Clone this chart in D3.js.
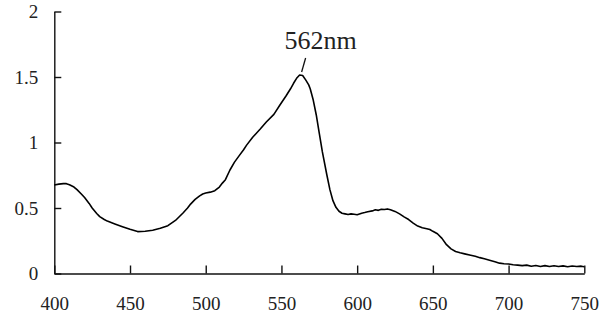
<!DOCTYPE html>
<html>
<head>
<meta charset="utf-8">
<script src="https://cdn.jsdelivr.net/npm/d3@7"></script>
<style>
  body { margin: 0; background: #fff; }
  svg text { font-family: "Liberation Serif", "DejaVu Serif", serif; fill: #222; }
</style>
</head>
<body>
<svg id="svg1" width="603" height="322"></svg>
<script>
// absorbance spectrum
var wavelength = [400, 403, 406, 408, 410, 413, 415, 418, 420, 423, 425, 428, 430, 433, 435, 440, 445, 450, 455, 460,
  465, 470, 475, 480, 485, 488, 490, 493, 496, 498, 500, 503, 506, 509, 511, 513, 516, 519, 522, 525,
  527, 531, 536, 540, 545, 549, 553, 556, 558, 560, 562, 564, 566, 568, 569, 571, 573, 575, 577, 580,
  582, 584, 586, 588, 590, 592, 594, 596, 598, 600, 603, 605, 607, 610, 612, 614, 616, 618, 620, 622,
  625, 628, 631, 634, 637, 640, 643, 646, 648, 650, 653, 656, 659, 662, 665, 668, 671, 675, 678, 681,
  684, 688, 691, 694, 697, 700, 703, 706, 709, 712, 715, 718, 721, 724, 727, 730, 733, 736, 739, 742,
  745, 748, 750];
var absorbance = [0.676, 0.682, 0.686, 0.686, 0.678, 0.660, 0.640, 0.605, 0.580, 0.535, 0.500, 0.458, 0.434, 0.412, 0.400, 0.378, 0.357, 0.337, 0.320, 0.322,
  0.330, 0.345, 0.365, 0.405, 0.462, 0.500, 0.530, 0.566, 0.593, 0.607, 0.614, 0.621, 0.632, 0.660, 0.690, 0.716, 0.790, 0.850, 0.898, 0.945,
  0.980, 1.040, 1.103, 1.156, 1.215, 1.286, 1.355, 1.410, 1.452, 1.490, 1.515, 1.512, 1.478, 1.440, 1.410, 1.324, 1.210, 1.070, 0.930, 0.752,
  0.640, 0.556, 0.505, 0.475, 0.460, 0.455, 0.450, 0.455, 0.452, 0.448, 0.460, 0.465, 0.472, 0.478, 0.486, 0.482, 0.491, 0.488, 0.493, 0.487,
  0.474, 0.455, 0.432, 0.412, 0.385, 0.362, 0.349, 0.342, 0.336, 0.322, 0.303, 0.268, 0.220, 0.188, 0.168, 0.158, 0.150, 0.140, 0.131, 0.121,
  0.112, 0.099, 0.090, 0.079, 0.075, 0.073, 0.067, 0.064, 0.060, 0.064, 0.055, 0.061, 0.054, 0.060, 0.053, 0.059, 0.053, 0.058, 0.052, 0.057,
  0.053, 0.056, 0.052];

var xTicks = [400, 450, 500, 550, 600, 650, 700, 750];
var yTicks = [0, 0.5, 1, 1.5, 2];
var peakWl = 562;
var peakVal = 1.515;
var peakLabel = "562nm";

var svg = d3.select('#svg1');

var x = d3.scaleLinear().domain([400, 750]).range([54.3, 584.3]);
var y = d3.scaleLinear().domain([0, 2]).range([273.5, 11.5]);

var xAxis = d3.axisBottom(x)
  .tickValues(xTicks)
  .tickSizeInner(-8)
  .tickSizeOuter(0)
  .tickFormat(function(d) { return d; });

var yAxis = d3.axisLeft(y)
  .tickValues(yTicks)
  .tickSizeInner(-7)
  .tickSizeOuter(0)
  .tickPadding(16)
  .tickFormat(function(d) { return d; });

var gx = svg.append("g")
  .attr("transform", "translate(0," + y(0) + ")")
  .call(xAxis);
gx.selectAll("text").attr("y", 23).style("font-size", "19px");

var gy = svg.append("g")
  .attr("transform", "translate(" + x(400) + ",0)")
  .call(yAxis);
gy.selectAll("text").style("font-size", "19px");

svg.selectAll(".domain, .tick line")
  .attr("stroke", "#111")
  .attr("stroke-width", 1.4);

var points = wavelength.map(function(w, i) { return {wl: w, val: absorbance[i]}; });

var line = d3.line()
  .x(function(d) { return x(d.wl) })
  .y(function(d) { return y(d.val) });

svg.append("path")
  .attr("d", line(points))
  .attr("fill", "none")
  .attr("stroke", "#000")
  .attr("stroke-width", 1.6)
  .attr("stroke-linejoin", "round");

// peak annotation
svg.append("line")
  .attr("x1", x(peakWl) + 2)
  .attr("y1", y(peakVal) - 3)
  .attr("x2", x(peakWl) + 6)
  .attr("y2", y(peakVal) - 17)
  .attr("stroke", "#111")
  .attr("stroke-width", 1.3);

svg.append("text")
  .attr("x", x(peakWl) - 15)
  .attr("y", y(peakVal) - 26)
  .style("font-size", "26px")
  .text(peakLabel);
</script>
</body>
</html>
